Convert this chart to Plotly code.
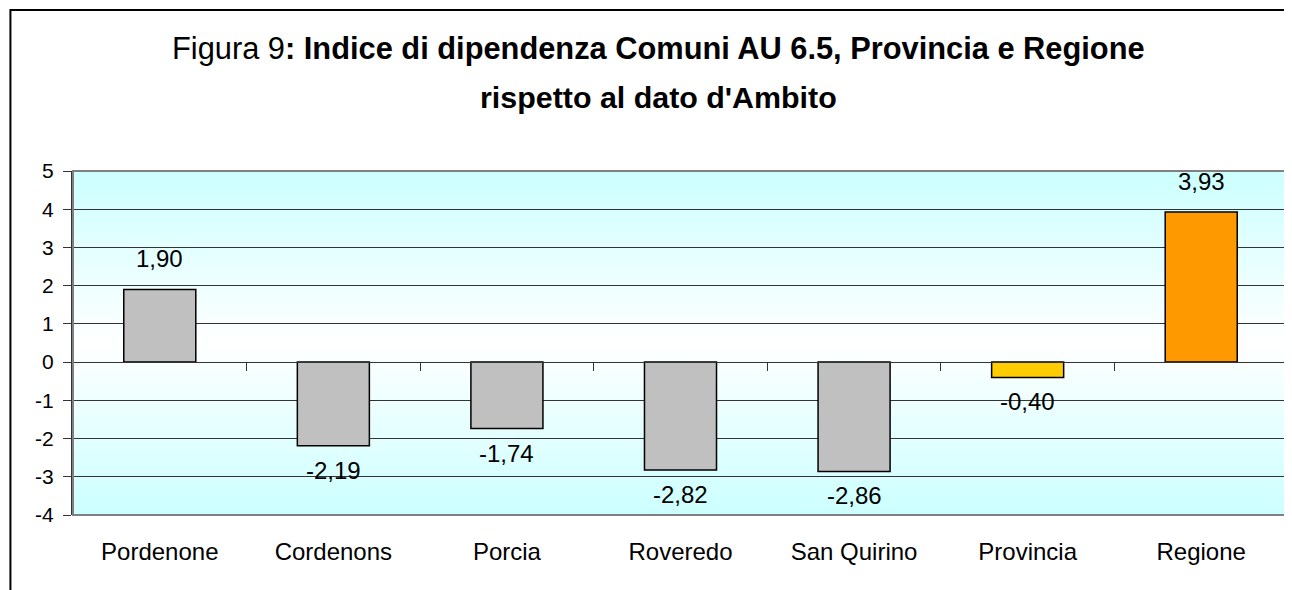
import plotly.graph_objects as go

categories = ["Pordenone", "Cordenons", "Porcia", "Roveredo", "San Quirino", "Provincia", "Regione"]
values = [1.90, -2.19, -1.74, -2.82, -2.86, -0.40, 3.93]
bar_colors = ["#C0C0C0", "#C0C0C0", "#C0C0C0", "#C0C0C0", "#C0C0C0", "#FFCC00", "#FF9900"]
y_ticks = [-4, -3, -2, -1, 0, 1, 2, 3, 4, 5]

FONT = "Liberation Sans, Arial, sans-serif"
YMIN, YMAX = -4, 5

fig = go.Figure()
fig.add_trace(go.Bar(
    x=categories, y=values,
    marker=dict(color=bar_colors, line=dict(color="#000000", width=1.5)),
    hoverinfo="skip", showlegend=False,
))
# invisible trace to carry the zero-level category axis (tick marks at category boundaries)
fig.add_trace(go.Scatter(
    x=categories, y=values, xaxis="x2", yaxis="y", mode="markers",
    marker=dict(opacity=0), hoverinfo="skip", showlegend=False,
))

# background gradient: cyan at top and bottom, white at centre
shapes = []
n = 60
def lerp(a, b, t):
    return int(round(a + (b - a) * t))
for i in range(n):
    y0 = i / n
    y1 = (i + 1) / n
    mid = (y0 + y1) / 2
    t = abs(mid - 0.5) / 0.5  # 0 at centre, 1 at edges
    r = lerp(255, 204, t)
    shapes.append(dict(type="rect", xref="x domain", yref="y domain",
                       x0=0, x1=1, y0=y0, y1=y1 + 0.002, layer="below",
                       line=dict(width=0), fillcolor=f"rgb({r},255,255)"))
# plot-area border
shapes.append(dict(type="rect", xref="x domain", yref="y domain", x0=0, x1=1, y0=0, y1=1,
                   line=dict(color="#808080", width=2), layer="above"))
# outer chart border
shapes.append(dict(type="rect", xref="paper", yref="paper", x0=-0.0515, x1=1.2, y0=-0.5, y1=1.468,
                   line=dict(color="#000000", width=2), layer="above"))

annotations = []
for c, v in zip(categories, values):
    annotations.append(dict(
        x=c, y=v, xref="x", yref="y", showarrow=False,
        text=f"{v:.2f}".replace(".", ","),
        yanchor="bottom" if v >= 0 else "top",
        yshift=15 if v >= 0 else -9,
        font=dict(family=FONT, size=24, color="#000000"),
    ))
annotations.append(dict(
    x=0.482, y=1.355, xref="paper", yref="paper", showarrow=False, xanchor="center", yanchor="middle",
    text="Figura 9<b>: Indice di dipendenza Comuni AU 6.5, Provincia e Regione</b>",
    font=dict(family=FONT, size=30.8, color="#000000"),
))
annotations.append(dict(
    x=0.482, y=1.215, xref="paper", yref="paper", showarrow=False, xanchor="center", yanchor="middle",
    text="<b>rispetto al dato d'Ambito</b>",
    font=dict(family=FONT, size=30.4, color="#000000"),
))

# the page body adds an 8px offset, so the figure is 8px smaller and margins are reduced by 8
fig.update_layout(
    width=1284, height=582,
    margin=dict(l=65, r=4, t=163, b=75, autoexpand=False),
    paper_bgcolor="#FFFFFF", plot_bgcolor="rgba(0,0,0,0)",
    bargap=0.585,
    shapes=shapes, annotations=annotations,
    font=dict(family=FONT, size=20, color="#000000"),
    xaxis=dict(
        type="category", categoryorder="array", categoryarray=categories,
        showgrid=False, showline=False, ticks="", zeroline=False, automargin=False,
        tickfont=dict(family=FONT, size=24, color="#000000"),
        ticklabelstandoff=20,
    ),
    xaxis2=dict(
        type="category", matches="x", overlaying="x", anchor="free",
        position=(0 - YMIN) / (YMAX - YMIN), automargin=False,
        showline=True, linecolor="#333333", linewidth=1,
        ticks="outside", tickson="boundaries", ticklen=8, tickcolor="#333333",
        showticklabels=False, showgrid=False, zeroline=False,
    ),
    yaxis=dict(
        range=[YMIN, YMAX], tickvals=y_ticks, ticktext=[str(t) for t in y_ticks],
        showgrid=True, gridcolor="#333333", gridwidth=1, zeroline=False, automargin=False,
        showline=True, linecolor="#333333", linewidth=2,
        ticks="outside", ticklen=8, tickcolor="#333333",
        tickfont=dict(family=FONT, size=21, color="#000000"),
        ticklabelstandoff=5,
    ),
)

fig.write_html("out.html")
